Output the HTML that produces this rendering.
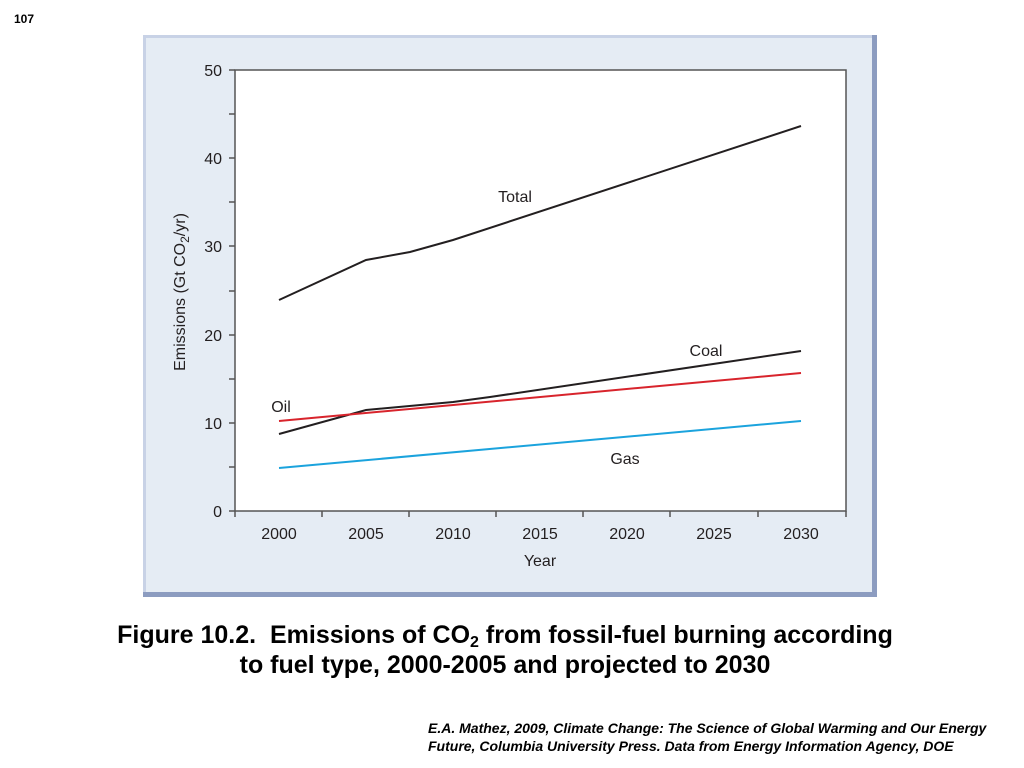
<!DOCTYPE html>
<html><head><meta charset="utf-8"><style>
body{margin:0;width:1024px;height:768px;background:#fff;position:relative;overflow:hidden;font-family:"Liberation Sans",sans-serif}
.t{position:absolute;white-space:nowrap}
sub{position:relative;top:4px;vertical-align:baseline;line-height:0}
</style></head><body>
<div class="t" style="left:14px;top:12px;font-size:12px;font-weight:bold">107</div>
<svg width="1024" height="768" style="position:absolute;left:0;top:0">
<rect x="143" y="35" width="734" height="562" fill="#8c9cc0"/>
<rect x="143" y="35" width="729" height="557" fill="#c8d2e6"/>
<rect x="146" y="38" width="726" height="554" fill="#e5ecf4"/>
<rect x="235" y="70" width="611" height="441" fill="#fff" stroke="#555" stroke-width="1.5"/>
<g stroke="#555" stroke-width="1.5">
<line x1="229" y1="511" x2="235" y2="511"/><line x1="229" y1="467" x2="235" y2="467"/>
<line x1="229" y1="423" x2="235" y2="423"/><line x1="229" y1="379" x2="235" y2="379"/>
<line x1="229" y1="335" x2="235" y2="335"/><line x1="229" y1="291" x2="235" y2="291"/>
<line x1="229" y1="246" x2="235" y2="246"/><line x1="229" y1="202" x2="235" y2="202"/>
<line x1="229" y1="158" x2="235" y2="158"/><line x1="229" y1="114" x2="235" y2="114"/>
<line x1="229" y1="70" x2="235" y2="70"/>
<line x1="235" y1="511" x2="235" y2="517"/><line x1="322" y1="511" x2="322" y2="517"/>
<line x1="409" y1="511" x2="409" y2="517"/><line x1="496" y1="511" x2="496" y2="517"/>
<line x1="583" y1="511" x2="583" y2="517"/><line x1="670" y1="511" x2="670" y2="517"/>
<line x1="758" y1="511" x2="758" y2="517"/><line x1="846" y1="511" x2="846" y2="517"/>
</g>
<g fill="none" stroke-width="2">
<polyline stroke="#231f20" points="279,300 366,260 410,252 453,240 801,126"/>
<polyline stroke="#231f20" points="279,434 366,410 453,402 490,397 801,351"/>
<polyline stroke="#d8242c" points="279,421 801,373"/>
<polyline stroke="#1ba3dd" points="279,468 801,421"/>
</g>
<g font-family="Liberation Sans, sans-serif" font-size="16" fill="#231f20" text-anchor="end">
<text x="222" y="517">0</text><text x="222" y="429">10</text><text x="222" y="341">20</text>
<text x="222" y="252">30</text><text x="222" y="164">40</text><text x="222" y="76">50</text>
</g>
<g font-family="Liberation Sans, sans-serif" font-size="16" fill="#231f20" text-anchor="middle">
<text x="279" y="539">2000</text><text x="366" y="539">2005</text><text x="453" y="539">2010</text>
<text x="540" y="539">2015</text><text x="627" y="539">2020</text><text x="714" y="539">2025</text>
<text x="801" y="539">2030</text>
<text x="540" y="566">Year</text>
<text x="515" y="202">Total</text><text x="706" y="356">Coal</text>
<text x="281" y="412">Oil</text><text x="625" y="464">Gas</text>
<text transform="translate(185,292) rotate(-90)">Emissions (Gt CO<tspan font-size="12" dy="4">2</tspan><tspan dy="-4">/yr)</tspan></text>
</g>
</svg>
<div class="t" style="left:0;width:1010px;text-align:center;top:620px;font-size:25px;font-weight:bold;line-height:30px">Figure 10.2.&nbsp; Emissions of CO<sub style="font-size:16px">2</sub> from fossil-fuel burning according<br>to fuel type, 2000-2005 and projected to 2030</div>
<div class="t" style="left:428px;top:719px;font-size:14px;font-weight:bold;font-style:italic;line-height:18px">E.A. Mathez, 2009, Climate Change: The Science of Global Warming and Our Energy<br>Future, Columbia University Press. Data from Energy Information Agency, DOE</div>
</body></html>
